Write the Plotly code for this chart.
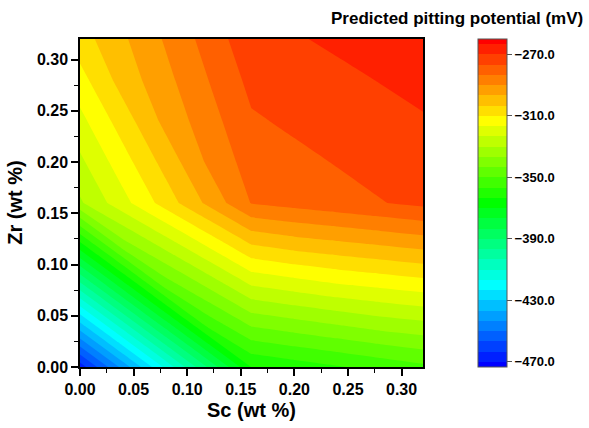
import plotly.graph_objects as go

# Sc (wt %) grid columns, Zr (wt %) grid rows
sc = [0.00, 0.04, 0.08, 0.12, 0.16, 0.20, 0.24, 0.28, 0.32]
zr = [0.00, 0.04, 0.08, 0.12, 0.16, 0.20, 0.24, 0.28, 0.32]

# Predicted pitting potential (mV), one row per Zr value
pp_zr000 = [-467, -441, -415, -389, -363, -360.1, -357.3, -354.4, -351.5]
pp_zr004 = [-433, -407, -381, -355, -343, -340.1, -337.3, -334.4, -332.4]
pp_zr008 = [-399, -373, -347, -335, -323, -320.1, -317.3, -315.3, -313.3]
pp_zr012 = [-365, -339, -327, -315, -303, -300.1, -298.1, -296.1, -294.1]
pp_zr016 = [-331, -319, -307, -295, -283, -281, -279, -277, -275]
pp_zr020 = [-324.8, -312.8, -300.8, -288.8, -280.3, -278.3, -276.3, -274.3, -272.8]
pp_zr024 = [-318.7, -306.7, -294.7, -286.1, -277.5, -275.5, -273.5, -272, -270.5]
pp_zr028 = [-312.5, -300.5, -291.9, -283.3, -274.8, -272.8, -271.3, -269.8, -268.3]
pp_zr032 = [-306.3, -297.7, -289.2, -280.6, -272, -270.5, -269, -267.5, -266]

z = [pp_zr000, pp_zr004, pp_zr008, pp_zr012, pp_zr016,
     pp_zr020, pp_zr024, pp_zr028, pp_zr032]

level_start = -470.0
level_step = 20.0 / 3.0
level_end = -470.0 + 31 * level_step

cbar_ticks = [-470, -430, -390, -350, -310, -270]

FONT = "Arial, 'Liberation Sans', sans-serif"

fig = go.Figure()
fig.add_trace(go.Contour(
    x=sc, y=zr, z=z,
    colorscale=[[0.0, "#0000ff"], [0.25, "#00ffff"], [0.5, "#00ff00"],
                [0.75, "#ffff00"], [1.0, "#ff0000"]],
    autocontour=False,
    contours=dict(start=level_start, end=level_end, size=level_step,
                  coloring="fill", showlines=False),
    line=dict(width=0, smoothing=0),
    colorbar=dict(
        x=1.160, xanchor="left", xref="paper",
        y=0.5, yanchor="middle", len=1.0, lenmode="fraction",
        thickness=29, xpad=0, ypad=0,
        outlinewidth=1, outlinecolor="#555555",
        tickmode="array", tickvals=cbar_ticks, tickformat=".1f",
        ticks="outside", ticklen=5, tickcolor="#555555",
        tickfont=dict(family=FONT, size=13, color="black", weight="bold"),
    ),
))

axis_common = dict(
    showgrid=False, zeroline=False,
    showline=True, linecolor="black", linewidth=1.5, mirror=True,
    ticks="outside", ticklen=7, tickwidth=1.5, tickcolor="black",
    tickfont=dict(family=FONT, size=16, color="black", weight="bold"),
    tickformat=".2f", dtick=0.05, tick0=0,
    minor=dict(ticks="outside", ticklen=4, dtick=0.025, tick0=0,
               tickcolor="black", tickwidth=1.2),
    range=[0, 0.32],
)

fig.update_layout(
    width=589, height=428,
    margin=dict(l=80, r=166, t=39, b=61),
    paper_bgcolor="white", plot_bgcolor="white",
    xaxis=dict(**axis_common),
    yaxis=dict(**axis_common),
    font=dict(family=FONT),
    annotations=[
        dict(text="<b>Predicted pitting potential (mV)</b>", xref="paper", yref="paper",
             x=1.472, y=1.064, xanchor="right", yanchor="middle", showarrow=False,
             font=dict(family=FONT, size=17, color="black")),
        dict(text="<b>Sc (wt %)</b>", xref="paper", yref="paper",
             x=0.5, y=-0.131, xanchor="center", yanchor="middle", showarrow=False,
             font=dict(family=FONT, size=20, color="black")),
        dict(text="<b>Zr (wt %)</b>", xref="paper", yref="paper",
             x=-0.19, y=0.5, xanchor="center", yanchor="middle", showarrow=False,
             textangle=-90, font=dict(family=FONT, size=20, color="black")),
    ],
)

fig.write_html("out.html")
